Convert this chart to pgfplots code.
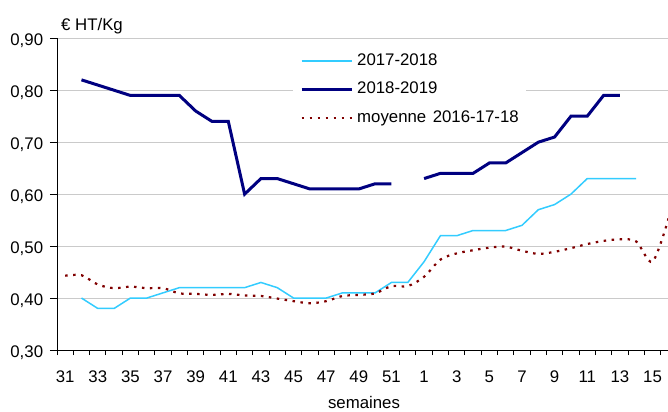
\documentclass[border=0pt]{standalone}
\usepackage{fontspec}
\setmainfont{Liberation Sans}
\usepackage{pgfplots}
\pgfplotsset{compat=1.18}
\definecolor{cyanl}{HTML}{33CCFF}
\definecolor{navyc}{HTML}{000080}
\definecolor{darkred}{HTML}{800000}
\definecolor{gridc}{HTML}{CACACA}
\begin{document}
\begin{tikzpicture}[font=\fontsize{16.8bp}{20bp}\selectfont]
\begin{axis}[
  scale only axis, width=611bp, height=311.7bp,
  at={(0,0)}, anchor=south west,
  xmin=-0.5, xmax=36.95, ymin=0.3, ymax=0.9,
  axis lines*=left,
  axis line style={black, line width=0.9bp},
  ytick={0.3,0.4,0.5,0.6,0.7,0.8,0.9},
  yticklabels={{0,30},{0,40},{0,50},{0,60},{0,70},{0,80},{0,90}},
  ymajorgrids, grid style={gridc, line width=1bp},
  xtick={0,2,...,36},
  xticklabels={31,33,35,37,39,41,43,45,47,49,51,1,3,5,7,9,11,13,15},
  minor xtick={-0.5,0.5,...,36.5},
  major x tick style={draw=none},
  tick align=outside,
  major tick length=7bp,
  minor tick length=5bp,
  tick style={black, line width=0.9bp},
  /pgf/number format/assume math mode=true,
  xticklabel style={anchor=base, inner sep=0pt, yshift=-25.6bp},
  yticklabel style={anchor=base east, inner sep=0pt, xshift=-6.7bp, yshift=-7.4bp},
  xlabel={semaines},
  xlabel style={at={(axis description cs:0,0)}, anchor=base, xshift=307bp, yshift=-58.8bp, inner sep=0pt},
  clip mode=individual,
  unbounded coords=jump,
  legend style={draw=none, fill=white, at={(0,1)}, anchor=north west, xshift=236bp, yshift=-6.7bp,
    inner xsep=7bp, inner ysep=8bp, row sep=12.5bp, column sep=4bp,
    nodes={inner sep=0pt, text height=12bp, text depth=4bp}},
  legend cell align=left,
  legend image code/.code={\draw[#1] (0bp,0bp) -- (50bp,0bp);},
]
\addplot[cyanl, line width=1.5bp] coordinates {
(1,0.40) (2,0.38) (3,0.38) (4,0.40) (5,0.40) (6,0.41) (7,0.42) (8,0.42) (9,0.42) (10,0.42)
(11,0.42) (12,0.43) (13,0.42) (14,0.40) (15,0.40) (16,0.40) (17,0.41) (18,0.41) (19,0.41) (20,0.43)
(21,0.43) (22,0.47) (23,0.52) (24,0.52) (25,0.53) (26,0.53) (27,0.53) (28,0.54) (29,0.57) (30,0.58)
(31,0.60) (32,0.63) (33,0.63) (34,0.63) (35,0.63)};
\addlegendentry{2017-2018}
\addplot[navyc, line width=3bp] coordinates {
(1,0.82) (2,0.81) (3,0.80) (4,0.79) (5,0.79) (6,0.79) (7,0.79) (8,0.76) (9,0.74) (10,0.74)
(11,0.60) (12,0.63) (13,0.63) (14,0.62) (15,0.61) (16,0.61) (17,0.61) (18,0.61) (19,0.62) (20,0.62)
(21,nan) (22,0.63) (23,0.64) (24,0.64) (25,0.64) (26,0.66) (27,0.66) (28,0.68) (29,0.70) (30,0.71)
(31,0.75) (32,0.75) (33,0.79) (34,0.79)};
\addlegendentry{2018-2019}
\addplot[darkred, line width=2.2bp, dash pattern=on 2.5bp off 5.5bp, smooth, tension=0.5] coordinates {
(0,0.443) (1,0.444) (2,0.426) (3,0.419) (4,0.422) (5,0.419) (6,0.419) (7,0.409) (8,0.408) (9,0.406)
(10,0.408) (11,0.405) (12,0.404) (13,0.399) (14,0.394) (15,0.390) (16,0.394) (17,0.404) (18,0.406) (19,0.409)
(20,0.423) (21,0.423) (22,0.441) (23,0.474) (24,0.486) (25,0.492) (26,0.497) (27,0.499) (28,0.491) (29,0.485)
(30,0.489) (31,0.496) (32,0.504) (33,0.510) (34,0.513) (35,0.509) (36,0.470) (37,0.555)};
\addlegendentry{moyenne\hspace{6.5bp}2016-17-18}
\node[anchor=base west, inner sep=0pt] at (rel axis cs:0,1) [xshift=4bp, yshift=8.3bp] {€ HT/Kg};
\end{axis}
\pgfresetboundingbox
\path[use as bounding box] (-57bp,-62bp) rectangle (611bp,350bp);
\end{tikzpicture}
\end{document}
